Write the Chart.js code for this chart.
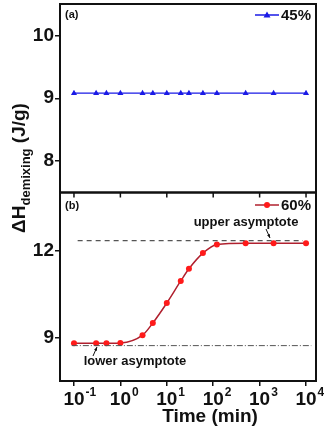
<!DOCTYPE html>
<html>
<head>
<meta charset="utf-8">
<script src="https://cdn.jsdelivr.net/npm/chart.js@4/dist/chart.umd.min.js"></script>
<style>
  html, body { margin: 0; padding: 0; background: #fff; }
  #wrap { width: 324px; height: 427px; }
</style>
</head>
<body>
<div id="wrap"><canvas id="demixChart" width="324" height="427"></canvas></div>
<script>
/* demixing enthalpy vs time, two stacked panels
---------------------------- */

// times (min)
var times = [0.1, 0.3, 0.5, 1, 3, 5, 10, 20, 30, 60, 120, 500, 2000, 10000];
var tickValues = [0.1, 1, 10, 100, 1000, 10000];
// (a) 45%
var dh45 = [9.08, 9.08, 9.08, 9.08, 9.08, 9.08, 9.08, 9.08, 9.08, 9.08, 9.08, 9.08, 9.08, 9.08];
// (b) 60%
var dh60 = [8.80, 8.80, 8.80, 8.81, 9.08, 9.50, 10.19, 10.95, 11.37, 11.91, 12.21, 12.25, 12.25, 12.25];
// asymptotes
var upperX = [0.12, 8600];
var upperY = [12.34, 12.34];
var lowerX = [0.09, 13000];
var lowerY = [8.72, 8.72];
var yTicksA = [8, 9, 10];
var yTicksB = [9, 12];

function pts(xs, ys) {
  return xs.map(function (x, i) { return { x: x, y: ys[i] }; });
}

var FONT = "'Liberation Sans', Arial, sans-serif";

var panelPlugin = {
  id: 'panelPlugin',
  afterDraw: function (chart) {
    var c = chart.ctx;
    var xs = chart.scales.x;
    var ya = chart.scales.ya;
    var yb = chart.scales.yb;
    var L = chart.chartArea.left, R = chart.chartArea.right;
    c.save();

    // frames
    c.strokeStyle = '#111';
    c.lineWidth = 2;
    c.strokeRect(L, ya.top, R - L, ya.bottom - ya.top);
    c.strokeRect(L, yb.top, R - L, yb.bottom - yb.top);

    // small ticks under the divider
    c.lineWidth = 1.5;
    tickValues.forEach(function (v) {
      var px = xs.getPixelForValue(v);
      c.beginPath();
      c.moveTo(px, yb.top);
      c.lineTo(px, yb.top + 5);
      c.stroke();
    });

    // x tick labels 10^n
    c.fillStyle = '#111';
    c.textBaseline = 'alphabetic';
    tickValues.forEach(function (v) {
      var px = xs.getPixelForValue(v);
      var e = Math.round(Math.log10(v));
      c.font = 'bold 19px ' + FONT;
      c.textAlign = 'center';
      c.fillText('10', px, 405);
      var w = c.measureText('10').width;
      c.font = 'bold 12px ' + FONT;
      c.textAlign = 'left';
      c.fillText(String(e), px + w / 2 + 1, 396);
    });

    // x title
    c.font = 'bold 19px ' + FONT;
    c.textAlign = 'center';
    c.fillText('Time (min)', 210, 422);

    // y title, rotated
    c.save();
    c.translate(18, 168);
    c.rotate(-Math.PI / 2);
    c.textAlign = 'left';
    var t1 = '\u0394H', t2 = 'demixing', t3 = ' (J/g)';
    c.font = 'bold 19px ' + FONT;
    var w1 = c.measureText(t1).width, w3 = c.measureText(t3).width;
    c.font = 'bold 13px ' + FONT;
    var w2 = c.measureText(t2).width;
    var x0 = -(w1 + w2 + w3) / 2;
    c.font = 'bold 19px ' + FONT;
    c.fillText(t1, x0, 7);
    c.font = 'bold 13px ' + FONT;
    c.fillText(t2, x0 + w1, 12);
    c.font = 'bold 19px ' + FONT;
    c.fillText(t3, x0 + w1 + w2, 7);
    c.restore();

    // panel letters
    c.font = 'bold 11px ' + FONT;
    c.textAlign = 'left';
    c.fillText('(a)', 65, 18);
    c.fillText('(b)', 65, 209);

    // legends
    function legend(y, color, mcolor, shape, label) {
      c.strokeStyle = color;
      c.lineWidth = 1.5;
      c.beginPath();
      c.moveTo(255, y);
      c.lineTo(279, y);
      c.stroke();
      c.fillStyle = mcolor;
      c.beginPath();
      if (shape === 'tri') {
        c.moveTo(267, y - 3.5);
        c.lineTo(270.5, y + 2.5);
        c.lineTo(263.5, y + 2.5);
        c.closePath();
      } else {
        c.arc(267, y, 3, 0, Math.PI * 2);
      }
      c.fill();
      c.fillStyle = '#111';
      c.font = 'bold 15px ' + FONT;
      c.textAlign = 'left';
      c.fillText(label, 281, y + 5);
    }
    legend(15, '#1a1ae6', '#1a1ae6', 'tri', '45%');
    legend(205, '#b0202e', '#ff1a1a', 'circ', '60%');

    // asymptote labels and arrows
    c.fillStyle = '#111';
    c.font = 'bold 13px ' + FONT;
    c.textAlign = 'center';
    c.fillText('upper asymptote', 246, 226);
    c.fillText('lower asymptote', 135, 365);
    function arrow(x1, y1, x2, y2) {
      c.strokeStyle = '#111';
      c.lineWidth = 1;
      c.beginPath();
      c.moveTo(x1, y1);
      c.lineTo(x2, y2);
      c.stroke();
      var a = Math.atan2(y2 - y1, x2 - x1);
      c.fillStyle = '#111';
      c.beginPath();
      c.moveTo(x2, y2);
      c.lineTo(x2 - 4 * Math.cos(a - 0.4), y2 - 4 * Math.sin(a - 0.4));
      c.lineTo(x2 - 4 * Math.cos(a + 0.4), y2 - 4 * Math.sin(a + 0.4));
      c.closePath();
      c.fill();
    }
    arrow(266, 229, 270, 238);
    arrow(93, 356, 97, 347);

    c.restore();
  }
};

function fitY(s) {
  s.width = 60;
  s.paddingTop = 0;
  s.paddingBottom = 0;
}

var ctx = document.getElementById('demixChart');
var demixChart = new Chart(ctx, {
  type: 'line',
  data: {
    datasets: [{
      label: '45%',
      data: pts(times, dh45),
      yAxisID: 'ya',
      borderColor: '#1a1ae6',
      backgroundColor: '#1a1ae6',
      borderWidth: 1.2,
      pointStyle: 'triangle',
      pointRadius: 3.5,
      pointBorderWidth: 0,
      tension: 0
    }, {
      label: 'upper',
      data: pts(upperX, upperY),
      yAxisID: 'yb',
      borderColor: '#555',
      borderWidth: 1.2,
      borderDash: [5, 4],
      pointRadius: 0
    }, {
      label: 'lower',
      data: pts(lowerX, lowerY),
      yAxisID: 'yb',
      borderColor: '#555',
      borderWidth: 1,
      borderDash: [6, 2, 1, 2],
      pointRadius: 0
    }, {
      label: '60%',
      data: pts(times, dh60),
      yAxisID: 'yb',
      borderColor: '#b0202e',
      backgroundColor: '#ff1a1a',
      borderWidth: 1.5,
      pointRadius: 3,
      pointBorderWidth: 0,
      cubicInterpolationMode: 'monotone'
    }]
  },
  options: {
    responsive: false,
    animation: false,
    maintainAspectRatio: false,
    layout: { padding: { top: 3, right: 8, left: 0, bottom: 0 } },
    plugins: {
      legend: { display: false },
      tooltip: { enabled: false }
    },
    scales: {
      x: {
        type: 'logarithmic',
        min: 0.05,
        max: 16400,
        afterBuildTicks: function (s) {
          s.ticks = tickValues.map(function (v) { return { value: v }; });
        },
        afterFit: function (s) { s.height = 46; s.paddingLeft = 0; s.paddingRight = 0; },
        ticks: { display: false },
        border: { display: false },
        grid: { drawOnChartArea: false, drawTicks: true, tickLength: 5, color: '#111', lineWidth: 1.5 }
      },
      yb: {
        type: 'linear',
        position: 'left',
        stack: 'panels',
        stackWeight: 1,
        min: 7.5,
        max: 14,
        afterBuildTicks: function (s) {
          s.ticks = yTicksB.map(function (v) { return { value: v }; });
        },
        afterFit: fitY,
        ticks: { color: '#111', padding: 1, font: { family: FONT, size: 19, weight: 'bold' } },
        border: { display: false },
        grid: { drawOnChartArea: false, drawTicks: true, tickLength: 5, color: '#111', lineWidth: 1.5 }
      },
      ya: {
        type: 'linear',
        position: 'left',
        stack: 'panels',
        stackWeight: 1,
        min: 7.5,
        max: 10.5,
        afterBuildTicks: function (s) {
          s.ticks = yTicksA.map(function (v) { return { value: v }; });
        },
        afterFit: fitY,
        ticks: { color: '#111', padding: 1, font: { family: FONT, size: 19, weight: 'bold' } },
        border: { display: false },
        grid: { drawOnChartArea: false, drawTicks: true, tickLength: 5, color: '#111', lineWidth: 1.5 }
      }
    }
  },
  plugins: [panelPlugin]
});
</script>
</body>
</html>
